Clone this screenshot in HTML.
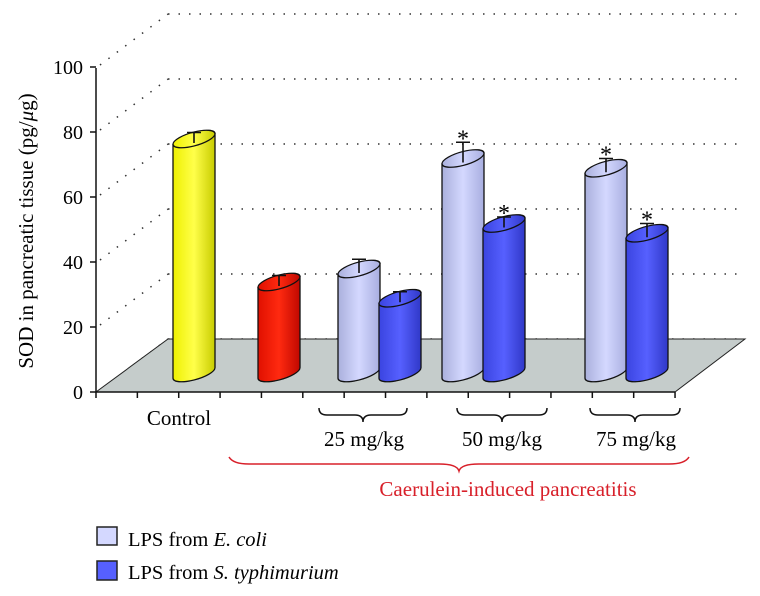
<!DOCTYPE html>
<html><head><meta charset="utf-8"><style>
body{margin:0;background:#fff}
svg{display:block;font-family:"Liberation Serif",serif}
</style></head><body>
<svg id="chart" width="760" height="596" viewBox="0 0 760 596">
<defs>
<linearGradient id="gY" x1="0" x2="1"><stop offset="0" stop-color="#eef000"/><stop offset="0.5" stop-color="#ffff4a"/><stop offset="1" stop-color="#c8cc00"/></linearGradient>
<linearGradient id="gR" x1="0" x2="1"><stop offset="0" stop-color="#e01000"/><stop offset="0.5" stop-color="#ff2a10"/><stop offset="1" stop-color="#c00800"/></linearGradient>
<linearGradient id="gL" x1="0" x2="1"><stop offset="0" stop-color="#aab0dc"/><stop offset="0.5" stop-color="#d4d8ff"/><stop offset="1" stop-color="#a8aee0"/></linearGradient>
<linearGradient id="gD" x1="0" x2="1"><stop offset="0" stop-color="#3a44e0"/><stop offset="0.5" stop-color="#5660ff"/><stop offset="1" stop-color="#3038c8"/></linearGradient>
</defs>
<g id="grid"></g>
<polygon points="96,392 675,392 745,339 168,339" fill="#c5cccb" stroke="#222" stroke-width="1"/>
<g id="axis"></g>
<g id="bars"></g>
<text transform="translate(33,231) rotate(-90)" text-anchor="middle" font-size="21">SOD in pancreatic tissue (pg/<tspan font-style="italic">μ</tspan>g)</text>
<text x="179" y="425" text-anchor="middle" font-size="21">Control</text>
<g fill="none" stroke="#111" stroke-width="1.5">
<path d="M319,408 q0,7 8,7 h28 q8,0 8,7 q0,-7 8,-7 h28 q8,0 8,-7"/>
<path d="M457,408 q0,7 8,7 h29 q8,0 8,7 q0,-7 8,-7 h29 q8,0 8,-7"/>
<path d="M590,408 q0,7 8,7 h29 q8,0 8,7 q0,-7 8,-7 h29 q8,0 8,-7"/>
</g>
<text x="364" y="446" text-anchor="middle" font-size="21">25 mg/kg</text>
<text x="502" y="446" text-anchor="middle" font-size="21">50 mg/kg</text>
<text x="636" y="446" text-anchor="middle" font-size="21">75 mg/kg</text>
<path d="M229,457 q4,7 20,7 h190 q18,0 20,7 q2,-7 20,-7 h190 q16,0 20,-7" fill="none" stroke="#d8202a" stroke-width="1.5"/>
<text x="508" y="496" text-anchor="middle" font-size="21" fill="#d8202a">Caerulein-induced pancreatitis</text>
<rect x="97" y="527" width="20" height="18" fill="#d4d8ff" stroke="#222" stroke-width="1.5"/>
<text x="128" y="546" font-size="20.5">LPS from <tspan font-style="italic">E. coli</tspan></text>
<rect x="97" y="561" width="20" height="19" fill="#5660ff" stroke="#222" stroke-width="1.5"/>
<text x="128" y="579" font-size="20.5">LPS from <tspan font-style="italic">S. typhimurium</tspan></text>
</svg>
<script>
const categories=["Control","Caerulein","E.coli 25","S.typh 25","E.coli 50","S.typh 50","E.coli 75","S.typh 75"];
const values=[72,28,32,23,66,46,63,43];
const errors=[2,2,3,2,5,2,3,3];
const stars=[false,false,false,false,true,true,true,true];
const yTicks=[0,20,40,60,80,100];
const fills=["url(#gY)","url(#gR)","url(#gL)","url(#gD)","url(#gL)","url(#gD)","url(#gL)","url(#gD)"];
const centers=[194,279,359,400,463,504,606,647];
const NS="http://www.w3.org/2000/svg";
function y(v){return 392-v*3.25;}
function yb(v){return 373-v*3.25;}
function mk(p,t,a){const e=document.createElementNS(NS,t);for(const k in a)e.setAttribute(k,a[k]);p.appendChild(e);return e;}
const grid=document.getElementById('grid'),axis=document.getElementById('axis'),bars=document.getElementById('bars');
yTicks.forEach(t=>{
  const gy=y(t)-53;
  const l=mk(grid,'line',{x1:168,y1:gy,x2:745,y2:gy,stroke:'#333','stroke-dasharray':'1.5 9','stroke-width':1.5});
  
  
  const d=mk(grid,'line',{x1:100,y1:y(t)-2,x2:168,y2:gy,stroke:'#333','stroke-dasharray':'1.5 9','stroke-width':1.5});
  
  
  const tk=mk(axis,'line',{x1:90,y1:y(t),x2:96,y2:y(t),stroke:'#111','stroke-width':1.5});
  
  
  const tx=mk(axis,'text',{x:83,y:y(t)+7,'text-anchor':'end','font-size':20});
  tx.textContent=t;
  
  
});
const ax=mk(axis,'path',{d:'M96,68 V392 H675',fill:'none',stroke:'#111','stroke-width':1.5});


for(let i=0;i<15;i++){const x=96+i*41.36;
  const t=mk(axis,'line',{x1:x,y1:392,x2:x,y2:398,stroke:'#111','stroke-width':1.5});
  
  }
values.forEach((v,i)=>{
  const g=mk(bars,'g',{});
  
  
  const cx=centers[i],r=21,top=yb(v),bot=373;
  const c=mk(g,'g',{transform:`translate(${cx},0) skewY(-14)`});
  mk(c,'path',{d:`M${-r},${top} V${bot} A${r},7 0 0 0 ${r},${bot} V${top} Z`,fill:fills[i],stroke:'#111','stroke-width':1.3});
  mk(c,'ellipse',{cx:0,cy:top,rx:r,ry:7,fill:fills[i],stroke:'#111','stroke-width':1.3});
  const et=yb(v+errors[i]);
  mk(g,'path',{d:`M${cx},${top+4} V${et} M${cx-7},${et} H${cx+7}`,stroke:'#111','stroke-width':1.6,fill:'none'});
  if(stars[i]){const s=mk(g,'text',{x:cx,y:et+4,'text-anchor':'middle','font-size':24});s.textContent='*';}
});
</script>
</body></html>
